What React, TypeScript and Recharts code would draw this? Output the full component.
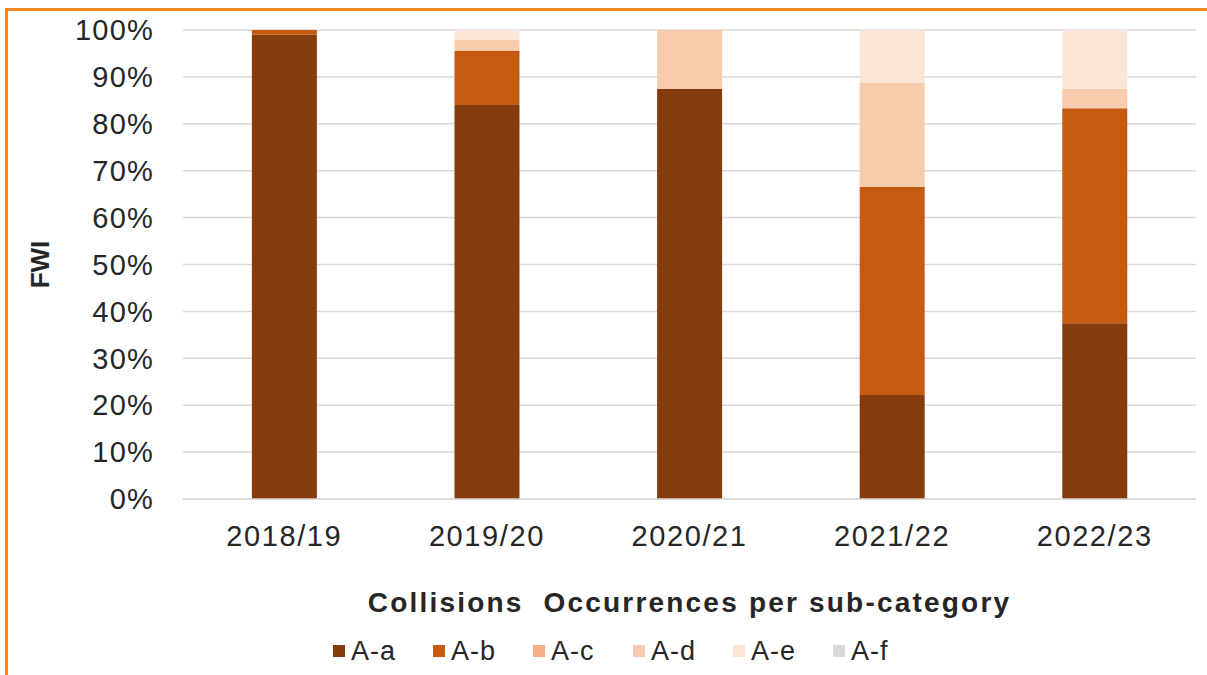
import React from "react";
import { BarChart, Bar, XAxis, YAxis, CartesianGrid, Legend } from "recharts";

// Share of FWI by collision sub-category, per financial year (percent)
const years = ["2018/19", "2019/20", "2020/21", "2021/22", "2022/23"];
const aA = [99, 84, 87.5, 22.2, 37.5];
const aB = [1, 11.5, 0, 44.4, 45.8];
const aC = [0, 0, 0, 0, 0];
const aD = [0, 2.5, 12.5, 22.2, 4.2];
const aE = [0, 2, 0, 11.2, 12.5];
const aF = [0, 0, 0, 0, 0];
const yTicks = [0, 10, 20, 30, 40, 50, 60, 70, 80, 90, 100];

const seriesKeys = ["A-a", "A-b", "A-c", "A-d", "A-e", "A-f"];
const seriesValues = [aA, aB, aC, aD, aE, aF];
const seriesColors = ["#843c0c", "#c55a11", "#f4b183", "#f8cbad", "#fbe5d6", "#d9d9d9"];

const data = years.map((year, i) => {
  const row: Record<string, string | number> = { year };
  seriesKeys.forEach((k, s) => {
    row[k] = seriesValues[s][i];
  });
  return row;
});

const FONT = "'Liberation Sans', Arial, sans-serif";
const TEXT = "#262626";

const XTitle = (props: any) => {
  const vb = props.viewBox || {};
  return (
    <text
      x={vb.x + vb.width / 2}
      y={vb.y + 113}
      textAnchor="middle"
      fontFamily={FONT}
      fontWeight="bold"
      fontSize={28}
      letterSpacing={2.2}
      fill={TEXT}
      style={{ whiteSpace: "pre" }}
    >
      {"Collisions  Occurrences per sub-category"}
    </text>
  );
};

const YTitle = (props: any) => {
  const vb = props.viewBox || {};
  const cy = vb.y + vb.height / 2;
  return (
    <text
      x={49}
      y={cy}
      transform={`rotate(-90, 49, ${cy})`}
      textAnchor="middle"
      fontFamily={FONT}
      fontWeight="bold"
      fontSize={26}
      fill={TEXT}
    >
      FWI
    </text>
  );
};

const LegendContent = (props: any) => {
  const payload = props.payload || [];
  return (
    <div style={{ display: "flex", fontFamily: FONT, fontSize: 27, color: TEXT, height: 32, alignItems: "center" }}>
      {payload.map((p: any) => (
        <div key={p.value} style={{ display: "flex", alignItems: "center", width: 100 }}>
          <span style={{ width: 12, height: 12, background: p.color, marginRight: 6, display: "inline-block" }} />
          <span style={{ letterSpacing: 1 }}>{p.value}</span>
        </div>
      ))}
    </div>
  );
};

export default function App() {
  return (
    <div style={{ position: "absolute", left: 0, top: 0, width: 1207, height: 675, background: "#fff", overflow: "hidden" }}>
      <div
        style={{
          position: "absolute",
          left: 5,
          top: 8,
          width: 1300,
          height: 800,
          borderTop: "3px solid #f7861e",
          borderLeft: "3px solid #f7861e",
        }}
      />
      <BarChart
        width={1207}
        height={675}
        data={data}
        margin={{ top: 30, right: 11, bottom: 0, left: 0 }}
        barCategoryGap="34%"
        style={{ position: "absolute", left: 0, top: 0 }}
      >
        <CartesianGrid vertical={false} stroke="#d9d9d9" strokeWidth={1.5} />
        <XAxis
          dataKey="year"
          height={144}
          axisLine={{ stroke: "#d9d9d9", strokeWidth: 1.5 }}
          tickLine={false}
          tickMargin={20}
          tick={{ fontFamily: FONT, fontSize: 29, fill: TEXT, letterSpacing: 1.6 }}
          label={<XTitle />}
        />
        <YAxis
          width={183}
          domain={[0, 100]}
          ticks={yTicks}
          interval={0}
          axisLine={false}
          tickLine={false}
          tickMargin={23}
          tickFormatter={(v: number) => `${v}%`}
          tick={{ fontFamily: FONT, fontSize: 29, fill: TEXT, letterSpacing: 1.2 }}
          label={<YTitle />}
        />
        <Legend
          verticalAlign="bottom"
          height={32}
          content={<LegendContent />}
          wrapperStyle={{ left: 333, top: 635, width: 620, bottom: "auto" }}
        />
        {seriesKeys.map((k, s) => (
          <Bar key={k} dataKey={k} stackId="fwi" fill={seriesColors[s]} isAnimationActive={false} />
        ))}
      </BarChart>
    </div>
  );
}
